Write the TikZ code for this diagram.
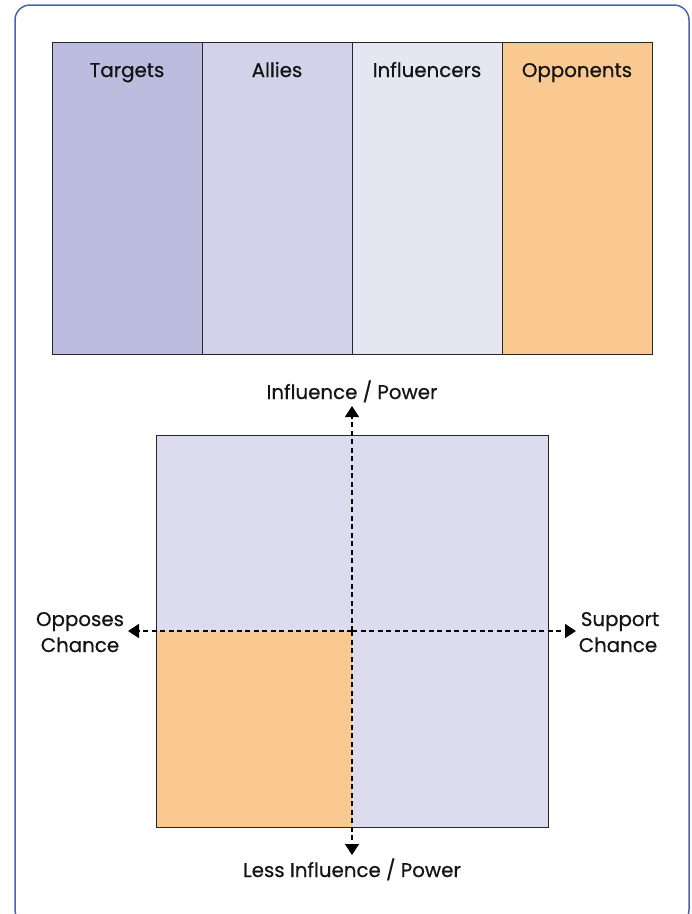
\documentclass[tikz,border=0pt]{standalone}
\usepackage{fontspec}
\setmainfont{Poppins}[FakeBold=0.6]
\usetikzlibrary{arrows.meta}
\definecolor{frameblue}{HTML}{4A64AE}
\definecolor{ctarget}{HTML}{BCBCDE}
\definecolor{cally}{HTML}{D2D2EA}
\definecolor{cinfl}{HTML}{E6E6F2}
\definecolor{copp}{HTML}{FAC991}
\definecolor{cquad}{HTML}{DCDCEE}
\begin{document}
\begin{tikzpicture}[x=1pt,y=-1pt,
  col/.style={draw=black!85,line width=1pt,minimum width=150pt,minimum height=312pt,anchor=north west,inner sep=0pt},
  lab/.style={font=\fontsize{19.8}{26}\selectfont,text=black!92,anchor=base,inner sep=0pt},
  quad/.style={inner sep=0pt,minimum width=196pt,minimum height=196pt,anchor=north west},
  axis/.style={line width=1.4pt,dash pattern=on 5pt off 3.5pt,-{Triangle[length=11pt,width=14pt]}}]
\useasboundingbox (0,0) rectangle (692,914);
\draw[frameblue,line width=1.5pt,rounded corners=15pt] (15,5) rectangle (689,925);
% table
\node[col,fill=ctarget] (t) at (52,42) {};
\node[col,fill=cally] (a) at (202,42) {};
\node[col,fill=cinfl] (i) at (352,42) {};
\node[col,fill=copp] (o) at (502,42) {};
\node[lab] (tl) at (127,77) {Targets};
\node[lab] (al) at (277,77) {Allies};
\node[lab] (il) at (427,77) {Influencers};
\node[lab] (ol) at (577,77) {Opponents};
% quadrants
\node[quad,fill=cquad] (q1) at (156,435) {};
\node[quad,fill=cquad] (q2) at (352,435) {};
\node[quad,fill=copp] (q3) at (156,631) {};
\node[quad,fill=cquad] (q4) at (352,631) {};
\draw[black!85,line width=1pt] (156,435) rectangle (548,827);
\coordinate (c) at (352,631);
\coordinate (up) at (352,406);
\coordinate (dn) at (352,855);
\coordinate (lf) at (128,631);
\coordinate (rt) at (576,631);
\draw[axis] (c) -- (up);
\draw[axis] (c) -- (dn);
\draw[axis] (c) -- (lf);
\draw[axis] (c) -- (rt);
\node[lab] (ul) at (352,399) {Influence / Power};
\node[lab] (dl) at (352,877) {Less Influence / Power};
\node[lab] (ll1) at (80,626) {Opposes};
\node[lab] (ll2) at (80,652) {Chance};
\node[lab] (rl1) at (620,626) {Support};
\node[lab] (rl2) at (618,652) {Chance};
\end{tikzpicture}
\end{document}
